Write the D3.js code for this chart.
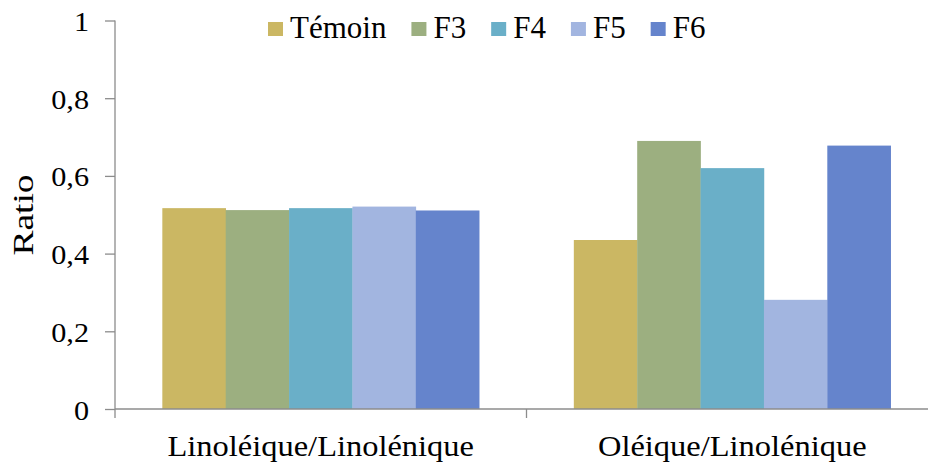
<!DOCTYPE html>
<html>
<head>
<meta charset="utf-8">
<script src="https://cdn.jsdelivr.net/npm/d3@7"></script>
<style>
  body { margin: 0; background: #fff; }
</style>
</head>
<body>
<script>
// data
const categories = ["Linoléique/Linolénique", "Oléique/Linolénique"]
const series = ["Témoin", "F3", "F4", "F5", "F6"]
const values = [
    [0.517, 0.512, 0.517, 0.521, 0.511], // Linoléique/Linolénique
    [0.435, 0.690, 0.620, 0.281, 0.678]  // Oléique/Linolénique
]
const yTicks = [0, 0.2, 0.4, 0.6, 0.8, 1]
const yTickLabels = ["0", "0,2", "0,4", "0,6", "0,8", "1"]

const colors = ["#CBB763", "#9CAF80", "#6AAFC8", "#A2B5E0", "#6584CC"]
const font = "'Liberation Serif'"

const width = 928, height = 463
const margin = { top: 20.5, left: 115, bottom: 409 }

var svg = d3.select("body")
    .append("svg")
    .attr("width", width)
    .attr("height", height)

var x = d3.scaleBand()
    .domain(categories)
    .range([margin.left, margin.left + 823]) // plot runs a bit past the right edge
    .paddingInner(0.23)
    .paddingOuter(0.115)

var xs = d3.scaleBand()
    .domain(series)
    .range([0, x.bandwidth()])

var y = d3.scaleLinear()
    .domain([0, 1])
    .range([margin.bottom, margin.top])

// bars
var groups = svg.selectAll(".grp")
    .data(categories)
    .enter()
    .append("g")
    .attr("class", "grp")
    .attr("transform", d => `translate(${x(d)},0)`)

groups.selectAll("rect")
    .data((d, i) => values[i].map((v, j) => ({ s: series[j], v: v, c: colors[j] })))
    .enter()
    .append("rect")
    .attr("x", d => xs(d.s))
    .attr("width", xs.bandwidth() + 0.3)
    .attr("y", d => y(d.v))
    .attr("height", d => y(0) - y(d.v))
    .style("fill", d => d.c)

// y axis
var yAxis = svg.append("g")
    .attr("transform", `translate(${margin.left},0)`)
    .call(d3.axisLeft(y).tickValues(yTicks).tickFormat((d, i) => yTickLabels[i]).tickSize(10).tickPadding(14))

yAxis.select(".domain").attr("stroke", "#8c8c8c").attr("stroke-width", 1.3).attr("d", `M0,${margin.top}V${margin.bottom}`)
yAxis.selectAll(".tick line").attr("stroke", "#8c8c8c").attr("stroke-width", 1.3)
yAxis.selectAll(".tick text")
    .attr("x", null)
    .attr("dy", null)
    .attr("transform", "translate(-26,10) scale(1.12,1)")
    .style("font-family", font)
    .style("font-size", "27px")
    .style("fill", "#000")

// x axis: line across plus ticks between categories
var xAxis = svg.append("g")
xAxis.append("line")
    .attr("x1", margin.left).attr("x2", width)
    .attr("y1", y(0)).attr("y2", y(0))
    .attr("stroke", "#8c8c8c").attr("stroke-width", 1.3)

var bounds = [x.range()[0], x.range()[0] + x.step()]
xAxis.selectAll(".xt")
    .data(bounds)
    .enter()
    .append("line")
    .attr("x1", d => d).attr("x2", d => d)
    .attr("y1", y(0)).attr("y2", y(0) + 9)
    .attr("stroke", "#8c8c8c").attr("stroke-width", 1.3)

xAxis.selectAll(".xl")
    .data(categories)
    .enter()
    .append("text")
    .attr("transform", d => `translate(${x(d) + x.bandwidth() / 2},456) scale(1.12,1)`)
    .attr("text-anchor", "middle")
    .style("font-family", font)
    .style("font-size", "29px")
    .text(d => d)

// y title
svg.append("text")
    .attr("transform", "translate(33,215) rotate(-90) scale(1.25,1)")
    .attr("text-anchor", "middle")
    .style("font-family", font)
    .style("font-size", "30px")
    .text("Ratio")

// legend
var legend = svg.append("g").attr("transform", "translate(268,0)")
var lx = 0
series.forEach(function(s, i) {
    var item = legend.append("g").attr("transform", `translate(${lx},0)`)
    item.append("rect")
        .attr("x", 0).attr("y", 22)
        .attr("width", 15).attr("height", 14)
        .style("fill", colors[i])
    var t = item.append("text")
        .attr("x", 22).attr("y", 38)
        .style("font-family", font)
        .style("font-size", "31px")
        .text(s)
    lx += 22 + t.node().getComputedTextLength() + 25
})
</script>
</body>
</html>
